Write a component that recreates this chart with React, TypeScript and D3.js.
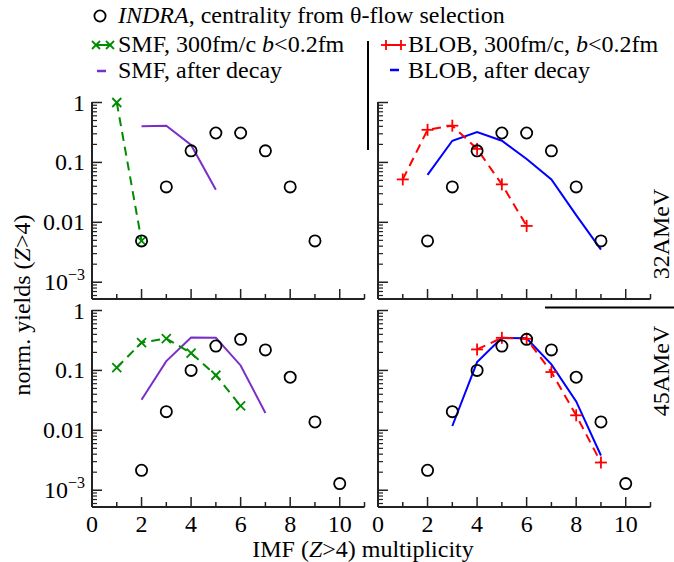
import React from "react";
import * as d3 from "d3";

// ---------- data ----------
const indraX32 = [2, 3, 4, 5, 6, 7, 8, 9];
const indraY32 = [0.0049, 0.039, 0.156, 0.31, 0.31, 0.156, 0.039, 0.0049];
const smfX32 = [1, 2];
const smfY32 = [1.0, 0.0049];
const smfDecX32 = [2, 3, 4, 5];
const smfDecY32 = [0.4, 0.41, 0.196, 0.035];
const blobX32 = [1, 2, 3, 4, 5, 6];
const blobY32 = [0.052, 0.35, 0.41, 0.168, 0.043, 0.0087];
const blobDecX32 = [2, 3, 4, 5, 6, 7, 8, 9];
const blobDecY32 = [0.062, 0.23, 0.32, 0.23, 0.114, 0.052, 0.0132, 0.0035];

const indraX45 = [2, 3, 4, 5, 6, 7, 8, 9, 10];
const indraY45 = [0.00215, 0.0205, 0.1, 0.255, 0.33, 0.22, 0.077, 0.0138, 0.00129];
const smfX45 = [1, 2, 3, 4, 5, 6];
const smfY45 = [0.111, 0.29, 0.34, 0.195, 0.083, 0.0255];
const smfDecX45 = [2, 3, 4, 5, 6, 7];
const smfDecY45 = [0.0324, 0.143, 0.355, 0.35, 0.121, 0.0195];
const blobX45 = [4, 5, 6, 7, 8, 9];
const blobY45 = [0.224, 0.35, 0.337, 0.094, 0.0178, 0.0029];
const blobDecX45 = [3, 4, 5, 6, 7, 8, 9];
const blobDecY45 = [0.0118, 0.138, 0.35, 0.345, 0.126, 0.0304, 0.0038];

const xMajorTicks = [0, 2, 4, 6, 8, 10];
const xMinorTicks = [1, 3, 5, 7, 9, 11];
const yMajorTicks = [1, 0.1, 0.01, 0.001];
const energyLabels = ["32AMeV", "45AMeV"];

// ---------- style ----------
const FONT = '"Liberation Serif"';
const FS = 24;
const GREEN = "#008b00";
const PURPLE = "#7a2fc6";
const RED = "#ff0000";
const BLUE = "#0000ff";
const AXIS = "#222";

const zip = (xs: number[], ys: number[]) => xs.map((x, i) => [x, ys[i]] as [number, number]);

const panelsX = [92, 378];
const panelsY = [102.5, 310.5];
const PW = 272.5;
const PH = 196.5;

function minorLogTicks(): number[] {
  const out: number[] = [];
  for (let e = -4; e <= 0; e++) {
    for (let m = 2; m <= 9; m++) {
      out.push(m * Math.pow(10, e - 1));
    }
  }
  return out;
}

function XMark({ x, y, s = 4.5, c }: any) {
  return (
    <g stroke={c} strokeWidth={1.8}>
      <line x1={x - s} y1={y - s} x2={x + s} y2={y + s} />
      <line x1={x - s} y1={y + s} x2={x + s} y2={y - s} />
    </g>
  );
}
function PlusMark({ x, y, s = 6, c }: any) {
  return (
    <g stroke={c} strokeWidth={1.8}>
      <line x1={x - s} y1={y} x2={x + s} y2={y} />
      <line x1={x} y1={y - s} x2={x} y2={y + s} />
    </g>
  );
}

const ts = { fontFamily: FONT };

function Panel({ px, py, row, col }: { px: number; py: number; row: number; col: number }) {
  const x = d3.scaleLinear().domain([0, 11]).range([px, px + PW]);
  const y = d3.scaleLog().domain([Math.pow(10, -3.28), 1]).range([py + PH, py]);
  const line = d3
    .line<[number, number]>()
    .x((d) => x(d[0]))
    .y((d) => y(d[1]));
  const yDomMin = y.domain()[0];
  const minors = minorLogTicks().filter((v) => v >= yDomMin && v <= 1);

  const indra = row === 0 ? zip(indraX32, indraY32) : zip(indraX45, indraY45);
  let dashed: [number, number][];
  let solid: [number, number][];
  let dashColor: string, solidColor: string;
  if (col === 0) {
    dashed = row === 0 ? zip(smfX32, smfY32) : zip(smfX45, smfY45);
    solid = row === 0 ? zip(smfDecX32, smfDecY32) : zip(smfDecX45, smfDecY45);
    dashColor = GREEN;
    solidColor = PURPLE;
  } else {
    dashed = row === 0 ? zip(blobX32, blobY32) : zip(blobX45, blobY45);
    solid = row === 0 ? zip(blobDecX32, blobDecY32) : zip(blobDecX45, blobDecY45);
    dashColor = RED;
    solidColor = BLUE;
  }

  return (
    <g>
      <path d={line(solid) || ""} fill="none" stroke={solidColor} strokeWidth={2} />
      <path d={line(dashed) || ""} fill="none" stroke={dashColor} strokeWidth={2} strokeDasharray="9,6" />
      {dashed.map((d, i) =>
        col === 0 ? (
          <XMark key={i} x={x(d[0])} y={y(d[1])} c={dashColor} />
        ) : (
          <PlusMark key={i} x={x(d[0])} y={y(d[1])} c={dashColor} />
        )
      )}
      {indra.map((d, i) => (
        <circle key={i} cx={x(d[0])} cy={y(d[1])} r={5.6} fill="none" stroke="#000" strokeWidth={1.8} />
      ))}

      <line x1={px} y1={py + PH} x2={px + PW} y2={py + PH} stroke={AXIS} strokeWidth={2} />
      <line x1={px} y1={py - 0.5} x2={px} y2={py + PH} stroke={AXIS} strokeWidth={2} />
      {xMajorTicks.map((t) => (
        <line key={"xm" + t} x1={x(t)} x2={x(t)} y1={py + PH} y2={py + PH - 10} stroke={AXIS} strokeWidth={1.5} />
      ))}
      {xMinorTicks.map((t) => (
        <line key={"xn" + t} x1={x(t)} x2={x(t)} y1={py + PH} y2={py + PH - 5} stroke={AXIS} strokeWidth={1.5} />
      ))}
      {yMajorTicks.map((t) => (
        <line key={"ym" + t} x1={px} x2={px + 10} y1={y(t)} y2={y(t)} stroke={AXIS} strokeWidth={1.5} />
      ))}
      {minors.map((t, i) => (
        <line key={"yn" + i} x1={px} x2={px + 5} y1={y(t)} y2={y(t)} stroke={AXIS} strokeWidth={1.2} />
      ))}

      {col === 0 &&
        yMajorTicks.map((t) => (
          <text key={"yl" + t} x={px - 7} y={y(t) + 8} textAnchor="end" style={ts} fontSize={FS} fill="#000">
            {t === 0.001 ? (
              <>
                10
                <tspan dy={-10} fontSize={16}>
                  −3
                </tspan>
              </>
            ) : (
              String(t)
            )}
          </text>
        ))}

      {row === 1 &&
        xMajorTicks.map((t) => (
          <text key={"xl" + t} x={x(t)} y={py + PH + 25} textAnchor="middle" style={ts} fontSize={FS} fill="#000">
            {t}
          </text>
        ))}
    </g>
  );
}

export default function App() {
  return (
    <svg width={674} height={562} style={{ position: "absolute", left: 0, top: 0, background: "#fff" }}>
      <rect width={674} height={562} fill="#fff" />
      {[0, 1].map((row) =>
        [0, 1].map((col) => <Panel key={row + "-" + col} px={panelsX[col]} py={panelsY[row]} row={row} col={col} />)
      )}

      <text transform="translate(668.5,234) rotate(-90)" textAnchor="middle" fontSize={FS} style={ts}>
        {energyLabels[0]}
      </text>
      <text transform="translate(668.5,371) rotate(-90)" textAnchor="middle" fontSize={FS} style={ts}>
        {energyLabels[1]}
      </text>
      <line x1={545} x2={674} y1={307.5} y2={307.5} stroke="#000" strokeWidth={2} />
      <line x1={368} x2={368} y1={41} y2={150} stroke="#000" strokeWidth={2} />

      <text transform="translate(30,305) rotate(-90)" textAnchor="middle" fontSize={FS} style={ts}>
        norm. yields (<tspan fontStyle="italic">Z</tspan>&gt;4)
      </text>
      <text x={363} y={557} textAnchor="middle" fontSize={FS} style={ts}>
        IMF (<tspan fontStyle="italic">Z</tspan>&gt;4) multiplicity
      </text>

      <circle cx={100} cy={16} r={5.6} fill="none" stroke="#000" strokeWidth={1.8} />
      <text x={118} y={23} fontSize={FS} style={ts}>
        <tspan fontStyle="italic">INDRA</tspan>, centrality from θ-flow selection
      </text>

      <line x1={96} x2={110} y1={45} y2={45} stroke={GREEN} strokeWidth={2} />
      <XMark x={96} y={45} s={4} c={GREEN} />
      <XMark x={110} y={45} s={4} c={GREEN} />
      <text x={118} y={52} fontSize={FS} style={ts}>
        SMF, 300fm/c <tspan fontStyle="italic">b</tspan>&lt;0.2fm
      </text>

      <line x1={97} x2={106} y1={71} y2={71} stroke={PURPLE} strokeWidth={2.5} />
      <text x={118} y={78} fontSize={FS} style={ts}>
        SMF, after decay
      </text>

      <line x1={386} x2={401} y1={45} y2={45} stroke={RED} strokeWidth={2} />
      <PlusMark x={386} y={45} s={5} c={RED} />
      <PlusMark x={401} y={45} s={5} c={RED} />
      <text x={408} y={52} fontSize={FS} style={ts}>
        BLOB, 300fm/c, <tspan fontStyle="italic">b</tspan>&lt;0.2fm
      </text>

      <line x1={390} x2={399} y1={70} y2={70} stroke={BLUE} strokeWidth={2.5} />
      <text x={408} y={78} fontSize={FS} style={ts}>
        BLOB, after decay
      </text>
    </svg>
  );
}
